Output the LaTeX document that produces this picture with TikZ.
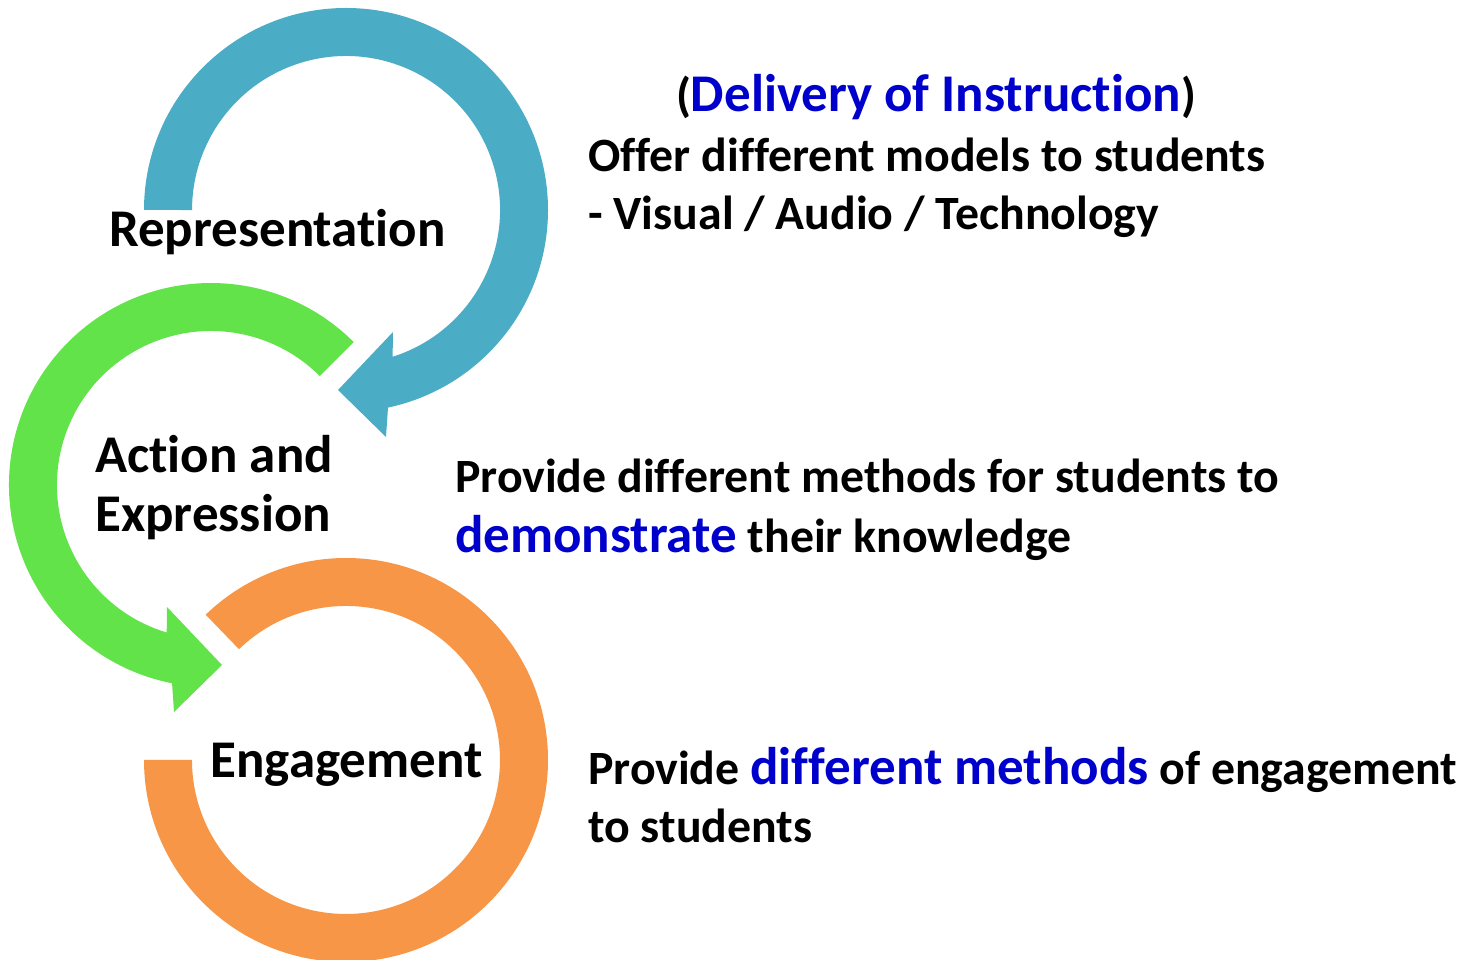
\documentclass[tikz,border=0pt]{standalone}
\usepackage{fontspec}
\setmainfont{Carlito}[Ligatures={NoCommon,NoRequired,NoContextual}]
\definecolor{ringblue}{HTML}{4BACC6}
\definecolor{ringgreen}{HTML}{62E349}
\definecolor{ringorange}{HTML}{F79646}
\definecolor{hlblue}{RGB}{0,0,204}
\newcommand{\hlt}[1]{{\fontsize{53}{58}\selectfont\color{hlblue}#1}}
\newcommand{\tiNL}{t\kern0pt i}
\tikzset{
  lbl/.style={inner sep=0pt, font=\fontsize{53}{58}\selectfont\bfseries},
  txt/.style={inner sep=0pt, anchor=base west, font=\fontsize{47.8}{58}\selectfont\bfseries},
}
\begin{document}
\begin{tikzpicture}[x=1pt,y=1pt]
\useasboundingbox (0,0) rectangle (1479,960);
% blue ring arrow (Representation)
\fill[ringblue] (144,750) arc[start angle=180,end angle=-78,radius=202]
  -- (386,523) -- (338,570) -- (393,628) -- (392.6,603.2)
  arc[start angle=-72.4,end angle=180,radius=154] -- cycle;
% green ring arrow (Action and Expression)
\fill[ringgreen] (353.8,617.8) arc[start angle=45,end angle=258.9,radius=202]
  -- (174,248) -- (222,295) -- (167,353) -- (166.7,327.5)
  arc[start angle=253.3,end angle=45,radius=154] -- cycle;
% orange ring (Engagement)
\fill[ringorange] (144,200) arc[start angle=180,end angle=494,radius=202]
  -- (239,310.8) arc[start angle=494,end angle=180,radius=154] -- cycle;
% labels
\node[lbl, anchor=base] (rep) at (277.5,713) {Representa\tiNL on};
\node[lbl, anchor=base west] (act1) at (95,487) {Ac\tiNL on and};
\node[lbl, anchor=base west] (act2) at (95,428) {Expression};
\node[lbl, anchor=base] (eng) at (346.5,182) {Engagement};
% descriptions
\node[txt, anchor=base] (t0) at (936,848) {(\hlt{Delivery of Instruc\tiNL on})};
\node[txt] (t1) at (588,788) {Offer different models to students};
\node[txt] (t2) at (588,730) {- Visual / Audio / Technology};
\node[txt] (t3) at (455,467) {Provide different methods for students to};
\node[txt] (t4) at (455,407) {\hlt{demonstrate} their knowledge};
\node[txt] (t5) at (588,175) {Provide \hlt{different methods} of engagement};
\node[txt] (t6) at (588,117) {to students};
\end{tikzpicture}
\end{document}
